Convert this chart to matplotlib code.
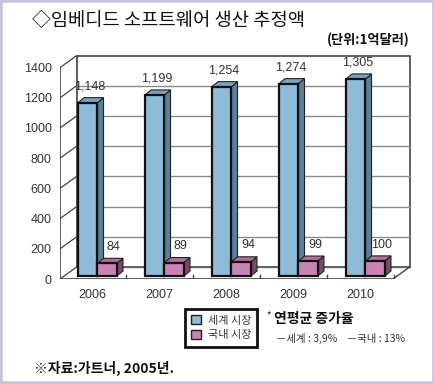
import matplotlib
matplotlib.use("Agg")
import matplotlib.pyplot as plt
from matplotlib.patches import Polygon, Rectangle, Patch

plt.rcParams['font.family'] = ['Noto Sans CJK KR', 'DejaVu Sans']

years = ['2006', '2007', '2008', '2009', '2010']
world = [1148, 1199, 1254, 1274, 1305]
domestic = [84, 89, 94, 99, 100]
world_labels = ['1,148', '1,199', '1,254', '1,274', '1,305']
domestic_labels = ['84', '89', '94', '99', '100']
yticks = [0, 200, 400, 600, 800, 1000, 1200, 1400]

W, H = 435, 384
fig = plt.figure(figsize=(W / 100, H / 100), dpi=100)
fig.patch.set_facecolor('white')

def fx(px):
    return px / W

def fy(py):
    return 1 - py / H

# axes: front plane of the pseudo 3d box
L, R, T, B = 60, 412, 50, 279
ax = fig.add_axes([fx(L), fy(B), (R - L) / W, (B - T) / H])
ax.set_xlim((L - 97.5) / 67, (R - 97.5) / 67)
ax.set_ylim(0, (B - T) / 0.151)
for s in ax.spines.values():
    s.set_visible(False)
ax.patch.set_alpha(0)

x0 = (L - 97.5) / 67
xfr = (393 - 97.5) / 67
DX, DY = 0.25, 80
num_font = ['Liberation Sans', 'DejaVu Sans']

# back wall
ax.add_patch(Rectangle((x0 + DX, DY), xfr - x0, 1400, facecolor='white',
                       edgecolor='#444444', lw=1.2, zorder=1))
for v in yticks[1:-1]:
    ax.plot([x0 + DX, xfr + DX], [v + DY, v + DY], color='#8a8a8a', lw=1, zorder=1.5)
# left wall diagonals
for v in yticks:
    ax.plot([x0, x0 + DX], [v, v + DY], color='#444444', lw=0.9, zorder=1.5)
ax.plot([x0, x0], [0, 1400], color='#444444', lw=1.2, zorder=1.5)
# floor
ax.plot([x0, xfr], [0, 0], color='#444444', lw=1.2, zorder=1.5)
ax.plot([x0 + DX, xfr + DX], [DY, DY], color='#666666', lw=1, zorder=1.5)
ax.plot([xfr, xfr + DX], [0, DY], color='#444444', lw=1, zorder=1.5)
for i in range(len(years)):
    ax.plot([i + 0.43, i + 0.43], [0, 25], color='#444444', lw=1, zorder=1.5)

def bar3d(xl, w, h, front, side, top, base=20):
    bdx, bdy = 0.09, 33
    ax.add_patch(Rectangle((xl, base), w, h, facecolor=front, edgecolor='#111111',
                           lw=1.6, zorder=3, joinstyle='miter'))
    ax.add_patch(Polygon([(xl + w, base), (xl + w + bdx, base + bdy),
                          (xl + w + bdx, base + h + bdy), (xl + w, base + h)],
                         closed=True, facecolor=side, edgecolor='#222222', lw=0.8, zorder=2.9))
    ax.add_patch(Polygon([(xl, base + h), (xl + bdx, base + h + bdy),
                          (xl + w + bdx, base + h + bdy), (xl + w, base + h)],
                         closed=True, facecolor=top, edgecolor='#222222', lw=0.8, zorder=2.9))

bw = 0.29
for i in range(len(years)):
    bar3d(i - bw, bw, world[i], '#8fbbd8', '#5b7f97', '#7ba3c0')
    bar3d(i, bw, domestic[i], '#c983b4', '#7a4a6b', '#b16f9c')
    ax.text(i - bw / 2 + 0.03, world[i] + 20 + 33 + 75, world_labels[i],
            ha='center', va='center', fontsize=9, color='#333333', family=num_font, zorder=4)
    ax.text(i + bw / 2 + 0.1, domestic[i] + 20 + 33 + 75, domestic_labels[i],
            ha='center', va='center', fontsize=9, color='#333333', family=num_font, zorder=4)

ax.set_yticks(yticks)
ax.set_yticklabels([str(v) for v in yticks], family=num_font, fontsize=9, color='#333333')
ax.set_xticks([i - 0.08 for i in range(len(years))])
ax.set_xticklabels(years, family=num_font, fontsize=9, color='#333333')
ax.tick_params(axis='both', length=0)
ax.tick_params(axis='y', pad=6)
ax.tick_params(axis='x', pad=7)

# titles and notes
fig.text(fx(32), fy(20), '◇임베디드 소프트웨어 생산 추정액', fontsize=13.5,
         color='#111111', va='center', ha='left')
fig.text(fx(410), fy(40), '(단위:1억달러)', fontsize=9.5, fontweight='bold',
         color='#111111', va='center', ha='right')

handles = [Patch(facecolor='#8fbbd8', edgecolor='#222222', lw=1),
           Patch(facecolor='#c983b4', edgecolor='#222222', lw=1)]
leg = fig.legend(handles, ['세계 시장', '국내 시장'], loc='upper left',
                 bbox_to_anchor=(fx(185), fy(309)), fancybox=False, edgecolor='#111111',
                 fontsize=8, handlelength=0.9, handleheight=0.9, handletextpad=0.6,
                 borderpad=0.55, labelspacing=0.4, borderaxespad=0, framealpha=1)
leg.get_frame().set_linewidth(2)
for t in leg.get_texts():
    t.set_color('#333333')

fig.text(fx(266), fy(316), '*', fontsize=7, color='#222222', va='center', ha='left')
fig.text(fx(274), fy(319), '연평균 증가율', fontsize=10, fontweight='bold',
         color='#111111', va='center', ha='left')
fig.text(fx(276), fy(338), '－세계 : 3,9%    －국내 : 13%', fontsize=7.5,
         color='#333333', va='center', ha='left')
fig.text(fx(34), fy(368), '※자료:가트너, 2005년.', fontsize=10, fontweight='bold',
         color='#111111', va='center', ha='left')

# outer frame
fig.add_artist(Rectangle((0, 0), 1, 1, transform=fig.transFigure, fill=False,
                         edgecolor='#c4c4de', lw=4))

fig.savefig('out.png', dpi=100)
